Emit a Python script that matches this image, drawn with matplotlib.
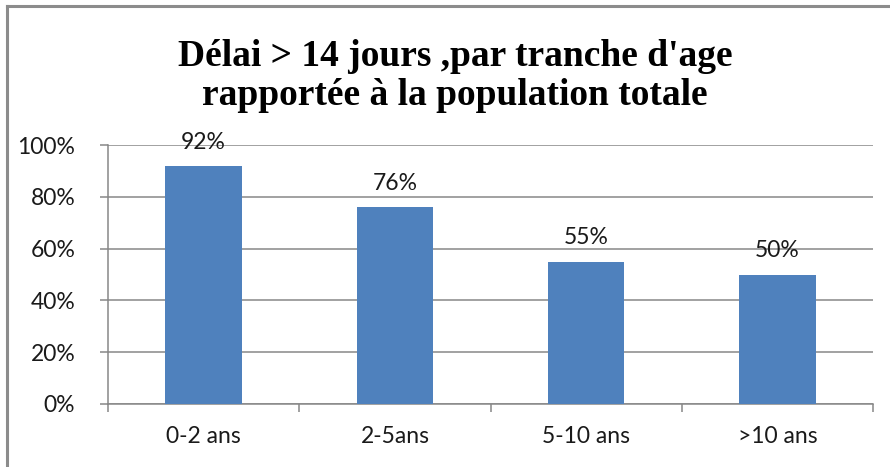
import matplotlib
matplotlib.use("Agg")
import matplotlib.pyplot as plt
from matplotlib.ticker import PercentFormatter, FixedLocator
from matplotlib.lines import Line2D

categories = ["0-2 ans", "2-5ans", "5-10 ans", ">10 ans"]
values = [0.92, 0.76, 0.55, 0.50]
labels = ["92%", "76%", "55%", "50%"]
title = "Délai > 14 jours ,par tranche d'age\nrapportée à la population totale"

W, H = 890, 467
fig = plt.figure(figsize=(W / 100, H / 100), dpi=100)
fig.patch.set_facecolor("white")

# left/top border of the chart frame
fig.add_artist(Line2D([6.5 / W, 6.5 / W], [0, 1 - 5.5 / H], color="#8c8c8c", lw=2.2, transform=fig.transFigure))
fig.add_artist(Line2D([6.5 / W, 1], [1 - 5.5 / H, 1 - 5.5 / H], color="#8c8c8c", lw=2.2, transform=fig.transFigure))

ax = fig.add_axes([108 / W, (H - 404) / H, (873 - 108) / W, (404 - 145) / H])

grid_col = "#878787"
x = range(len(categories))
ax.bar(x, values, width=0.4, color="#4f81bd", zorder=3)

for xi, v, lab in zip(x, values, labels):
    ax.annotate(lab, (xi, v), xytext=(0, 17), textcoords="offset points",
                ha="center", va="center", fontsize=16.5, family="Lato", color="#1a1a1a", zorder=4)

ax.set_xlim(-0.5, len(categories) - 0.5)
ax.set_ylim(0, 1)
ax.yaxis.set_major_locator(FixedLocator([0, 0.2, 0.4, 0.6, 0.8, 1.0]))
ax.yaxis.set_major_formatter(PercentFormatter(1.0, decimals=0))
ax.grid(axis="y", color=grid_col, lw=1.1, zorder=0)

ax.set_xticks(list(x))
ax.set_xticklabels(categories)
ax.set_xticks([i - 0.5 for i in range(len(categories) + 1)], minor=True)
ax.tick_params(axis="x", which="major", length=0, pad=16, labelsize=16.5, labelcolor="#1a1a1a")
ax.tick_params(axis="x", which="minor", length=5.5, width=1.1, color=grid_col, direction="out")
ax.tick_params(axis="y", length=5.5, width=1.1, color=grid_col, pad=18, labelsize=16.5, labelcolor="#1a1a1a")
for lab in ax.get_xticklabels() + ax.get_yticklabels():
    lab.set_family("Lato")

for s in ["top", "right"]:
    ax.spines[s].set_visible(False)
for s in ["left", "bottom"]:
    ax.spines[s].set_color(grid_col)
    ax.spines[s].set_linewidth(1.1)

fig.text(455 / W, 1 - 76 / H, title, ha="center", va="center", fontsize=27,
         family="Liberation Serif", weight="bold", linespacing=1.14, color="black")

fig.savefig("out.png", dpi=100)
